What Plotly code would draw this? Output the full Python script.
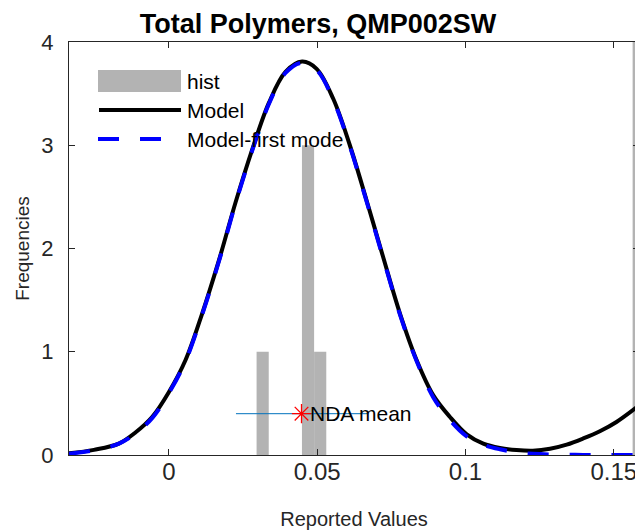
import plotly.graph_objects as go

# ---------------- data ----------------
hist_centers = [0.0316, 0.0469, 0.0510, 0.1584]
hist_counts = [1, 3, 1, 4.5]
hist_width = 0.0041

model_x = [-0.0337, -0.0253, -0.0169, -0.0112, -0.0056, 0.0000, 0.0056, 0.0112, 0.0169,
           0.0225, 0.0281, 0.0337, 0.0393, 0.0449, 0.0498, 0.0554, 0.0610, 0.0667,
           0.0722, 0.0779, 0.0835, 0.0891, 0.0947, 0.1004, 0.1060, 0.1116, 0.1172,
           0.1227, 0.1285, 0.1341, 0.1397, 0.1453, 0.1509, 0.1585]
model_y = [0.016, 0.05, 0.11, 0.22, 0.37, 0.61, 0.92, 1.37, 1.89,
           2.45, 2.96, 3.41, 3.71, 3.81, 3.74, 3.45, 3.00, 2.46,
           1.92, 1.37, 0.92, 0.58, 0.37, 0.20, 0.11, 0.068, 0.048,
           0.042, 0.060, 0.10, 0.16, 0.23, 0.32, 0.48]
first_y = [0.013, 0.045, 0.11, 0.21, 0.36, 0.60, 0.91, 1.36, 1.88,
           2.44, 2.95, 3.40, 3.70, 3.80, 3.73, 3.44, 2.99, 2.45,
           1.91, 1.36, 0.91, 0.56, 0.34, 0.18, 0.10, 0.055, 0.025,
           0.012, 0.005, 0.002, 0.001, 0.0, 0.0, 0.0]

nda_mean = 0.0447
nda_lo, nda_hi = 0.0226, 0.0668
nda_level = 0.4

x_tickvals = [0, 0.05, 0.1, 0.15]
x_ticktext = ["0", "0.05", "0.1", "0.15"]
y_tickvals = [0, 1, 2, 3, 4]

# ---------------- figure ----------------
FONT = "Liberation Sans, Arial, sans-serif"
AX = "#262626"
GRAY = "#b3b3b3"
fig = go.Figure()

# histogram bins as filled rectangles on the data axes
for c, h in zip(hist_centers, hist_counts):
    x0, x1 = c - hist_width / 2, c + hist_width / 2
    fig.add_trace(go.Scatter(x=[x0, x0, x1, x1, x0], y=[0, h, h, 0, 0], mode="lines",
                             fill="toself", fillcolor=GRAY, line=dict(width=0, color=GRAY),
                             showlegend=False, hoverinfo="skip"))
fig.add_trace(go.Scatter(x=model_x, y=model_y, mode="lines",
                         line=dict(color="black", width=4, shape="spline"),
                         showlegend=False))
fig.add_trace(go.Scatter(x=model_x, y=first_y, mode="lines",
                         line=dict(color="#0000ff", width=4, dash="21px,21px",
                                   shape="spline"),
                         showlegend=False))
fig.add_trace(go.Scatter(x=[nda_lo, nda_hi], y=[nda_level, nda_level], mode="lines",
                         line=dict(color="#0072BD", width=1), showlegend=False))
fig.add_trace(go.Scatter(x=[nda_mean], y=[nda_level], mode="markers",
                         marker=dict(symbol="asterisk-open", size=16, color="#ff0000",
                                     line=dict(color="#ff0000", width=1.3)),
                         showlegend=False))

fig.add_annotation(x=nda_mean, y=nda_level, xref="x", yref="y", text="NDA mean",
                   showarrow=False, xanchor="left", yanchor="middle", xshift=6,
                   font=dict(family=FONT, size=21, color="black"))

# manual legend (MATLAB style); positions in page pixels of the plot area
def px(xp):
    return (xp - 69) / 570.0

def py(yp):
    return (455 - yp) / 413.0

fig.add_shape(type="rect", xref="paper", yref="paper",
              x0=px(98), x1=px(181), y0=py(92), y1=py(70),
              fillcolor=GRAY, line=dict(width=0))
fig.add_shape(type="line", xref="paper", yref="paper",
              x0=px(99), x1=px(181), y0=py(110), y1=py(110),
              line=dict(color="black", width=4))
fig.add_shape(type="line", xref="paper", yref="paper",
              x0=px(98), x1=px(181), y0=py(139), y1=py(139),
              line=dict(color="#0000ff", width=4, dash="21px,21px"))
for label, yp in [("hist", 81), ("Model", 110), ("Model-first mode", 139)]:
    fig.add_annotation(x=px(185), y=py(yp), xref="paper", yref="paper", text=label,
                       showarrow=False, xanchor="left", yanchor="middle",
                       font=dict(family=FONT, size=21, color="black"))

# page has an 8px body margin: figure drawn at page offset (8, 8)
W, H = 635, 523
fig.update_layout(
    width=W, height=H,
    margin=dict(l=61, r=4, t=34, b=76, autoexpand=False),
    plot_bgcolor="white", paper_bgcolor="white",
    title=dict(text="<b>Total Polymers, QMP002SW</b>", x=310 / W,
               xanchor="center", y=1 - 6 / H, yanchor="top", pad=dict(t=0, b=0),
               font=dict(family=FONT, size=27, color="black")),
    showlegend=False,
)
fig.update_xaxes(range=[-0.0337, 0.1585], tickvals=x_tickvals, ticktext=x_ticktext,
                 ticks="inside", ticklen=6, tickcolor=AX, showline=True, linecolor=AX,
                 linewidth=1, mirror="ticks", showgrid=False, zeroline=False,
                 automargin=False, ticklabelstandoff=-5,
                 tickfont=dict(family=FONT, size=24, color=AX),
                 title=dict(text="Reported Values", standoff=28,
                            font=dict(family=FONT, size=20, color=AX)))
fig.update_yaxes(range=[0, 4], tickvals=y_tickvals, ticks="inside", ticklen=6,
                 tickcolor=AX, showline=True, linecolor=AX, linewidth=1,
                 mirror="ticks", showgrid=False, zeroline=False,
                 automargin=False, ticklabelstandoff=10,
                 tickfont=dict(family=FONT, size=22, color=AX),
                 title=dict(text="Frequencies", standoff=6,
                            font=dict(family=FONT, size=19, color=AX)))

fig.write_html("out.html")
